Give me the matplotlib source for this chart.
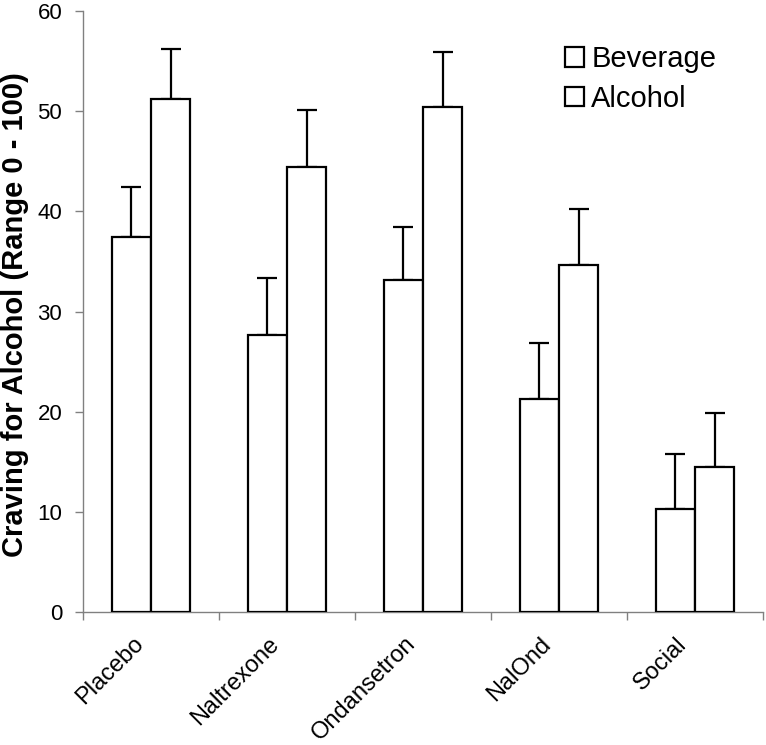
import matplotlib
matplotlib.use("Agg")
import matplotlib.pyplot as plt
import matplotlib.transforms as mtrans
import numpy as np
from matplotlib.patches import Patch

plt.rcParams['font.family'] = ['Liberation Sans', 'DejaVu Sans']

categories = ["Placebo", "Naltrexone", "Ondansetron", "NalOnd", "Social"]
beverage = [37.4, 27.7, 33.1, 21.3, 10.3]
beverage_err = [5.0, 5.6, 5.3, 5.6, 5.5]
alcohol = [51.2, 44.4, 50.4, 34.6, 14.5]
alcohol_err = [5.0, 5.7, 5.5, 5.6, 5.4]
series_names = ["Beverage", "Alcohol"]

fig = plt.figure(figsize=(7.66, 7.45), dpi=100)
ax = fig.add_axes([83/766, 133/745, 680/766, 601/745])

x = np.arange(len(categories))
w = 0.29
lw = 1.6
ax.bar(x - w/2, beverage, w, color='white', edgecolor='black', linewidth=lw, zorder=3)
ax.bar(x + w/2, alcohol, w, color='white', edgecolor='black', linewidth=lw, zorder=3)
ax.errorbar(x - w/2, beverage, yerr=[np.zeros(len(x)), beverage_err], fmt='none',
            ecolor='black', elinewidth=lw, capsize=7.5, capthick=lw, zorder=2)
ax.errorbar(x + w/2, alcohol, yerr=[np.zeros(len(x)), alcohol_err], fmt='none',
            ecolor='black', elinewidth=lw, capsize=7.5, capthick=lw, zorder=2)

ax.set_xlim(-0.5, len(categories) - 0.5)
ax.set_ylim(0, 60)
ax.set_yticks(np.arange(0, 61, 10))
ax.set_xticks(np.arange(len(categories) + 1) - 0.5)
ax.set_xticklabels([])
ax.set_xticks(x, minor=True)
ax.set_xticklabels(categories, minor=True, rotation=45, ha='right',
                   rotation_mode='anchor')
ax.tick_params(axis='x', which='minor', length=0, pad=15, labelsize=17)
ax.tick_params(axis='x', which='major', length=6, color='#808080', width=1)
ax.tick_params(axis='y', length=6, color='#808080', width=1, labelsize=16, pad=9)

offset = mtrans.ScaledTranslation(-19/100, 0, fig.dpi_scale_trans)
for lab in ax.get_xticklabels(minor=True):
    lab.set_fontsize(17)
    lab.set_transform(lab.get_transform() + offset)

for s in ['top', 'right']:
    ax.spines[s].set_visible(False)
for s in ['left', 'bottom']:
    ax.spines[s].set_color('#808080')
    ax.spines[s].set_linewidth(1)

ax.set_ylabel("Craving for Alcohol (Range 0 - 100)", fontsize=21, fontweight='bold', va='center')
ax.yaxis.set_label_coords((15 - 83) / 680, 0.495)

handles = [Patch(facecolor='white', edgecolor='black', linewidth=1.6, label=n) for n in series_names]
ax.legend(handles=handles, loc='upper left', bbox_to_anchor=(0.709, 0.943), frameon=False,
          fontsize=21, handlelength=0.65, handleheight=0.65, handletextpad=0.25,
          borderpad=0, borderaxespad=0, labelspacing=0.4)

fig.savefig("out.png", dpi=100)
